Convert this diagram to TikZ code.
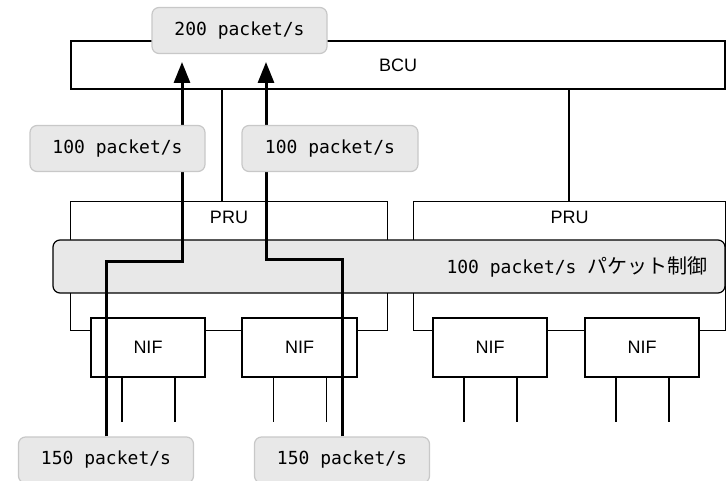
\documentclass[tikz,border=0pt]{standalone}
\usepackage{fontspec}
\setmainfont{Liberation Sans}
\newfontfamily\monofnt{DejaVu Sans Mono}
\newfontfamily\cjk{Noto Sans CJK JP}
\usepackage{xcolor}
\usetikzlibrary{arrows.meta}
\definecolor{boxgray}{HTML}{E8E8E8}
\definecolor{edgegray}{HTML}{C8C8C8}

\begin{document}
\begin{tikzpicture}[x=1pt,y=-1pt,
    wire/.style={line width=1.2pt},
    unit/.style={draw,line width=1.2pt,fill=white,inner sep=0pt,font=\fontsize{18}{20}\selectfont},
    rate/.style={draw=edgegray,line width=1.2pt,fill=boxgray,rounded corners=7pt,
        minimum width=175pt,minimum height=46pt,inner sep=0pt,font=\monofnt\fontsize{18}{20}\selectfont},
    flow/.style={line width=3pt,-{Triangle[length=21pt,width=16pt]}}
]
\useasboundingbox (0,0) rectangle (726,481);

% BCU and the two PRUs
\node[unit,minimum width=654pt,minimum height=48pt] (bcu) at (398,65) {BCU};
\node[inner sep=0pt,minimum width=316pt,minimum height=128pt] (pru1) at (229,266) {};
\node[inner sep=0pt,minimum width=311pt,minimum height=128pt] (pru2) at (569.5,266) {};
\node[font=\fontsize{18}{20}\selectfont] (prul1) at (229,217) {PRU};
\node[font=\fontsize{18}{20}\selectfont] (prul2) at (569.5,217) {PRU};

\coordinate (busl) at (222,0);
\coordinate (busr) at (569,0);
\draw[wire] (busl |- bcu.south) -- (busl |- pru1.north);
\draw[wire] (busr |- bcu.south) -- (busr |- pru2.north);

% NIFs
\node[unit,minimum width=114pt,minimum height=59pt] (nif1) at (148,347.5) {NIF};
\node[unit,minimum width=115pt,minimum height=59pt] (nif2) at (299.5,347.5) {NIF};
\node[unit,minimum width=114pt,minimum height=59pt] (nif3) at (490,347.5) {NIF};
\node[unit,minimum width=114pt,minimum height=59pt] (nif4) at (642,347.5) {NIF};

\draw[wire] (pru1.south west -| nif1.west) -- (pru1.south west) -- (pru1.north west)
    -- (pru1.north east) -- (pru1.south east) -- (pru1.south east -| nif2.east);
\draw[wire] (nif1.east |- pru1.south) -- (nif2.west |- pru1.south);
\draw[wire] (pru2.south west -| nif3.west) -- (pru2.south west) -- (pru2.north west)
    -- (pru2.north east) -- (pru2.south east) -- (pru2.south east -| nif4.east);
\draw[wire] (nif3.east |- pru2.south) -- (nif4.west |- pru2.south);

\foreach \n in {nif1,nif2,nif3,nif4}
    \foreach \dx in {-26,27}
        \draw[wire] ([xshift=\dx pt]\n.south) -- ++(0,44);

% packet control
\node[draw,line width=1.2pt,fill=boxgray,rounded corners=7pt,
    minimum width=672pt,minimum height=53pt] (ctl) at (389,266.5) {};
\node[anchor=east,inner sep=0pt] (ctltxt) at ([xshift=-18pt]ctl.east)
    {{\monofnt\fontsize{18}{20}\selectfont 100 packet/s }{\cjk\fontsize{20}{20}\selectfont パケット制御}};

% traffic
\node[rate] (src1) at (106,460) {150 packet/s};
\node[rate] (src2) at (342,460) {150 packet/s};
\coordinate (bend1) at (182,262);
\coordinate (bend2) at (266,260);
\coordinate (tip1) at (182,62);
\coordinate (tip2) at (266,62);
\draw[flow] (src1.north) |- (bend1) -- (tip1);
\draw[flow] (src2.north) |- (bend2) -- (tip2);

\node[rate] (in1) at (117.5,148.5) {100 packet/s};
\node[rate,minimum width=176pt] (in2) at (330,148.5) {100 packet/s};
\node[rate] (total) at (239.5,30.5) {200 packet/s};
\end{tikzpicture}
\end{document}
